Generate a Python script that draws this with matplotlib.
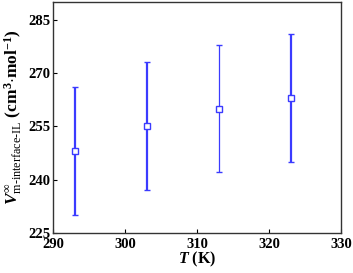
import matplotlib
matplotlib.use("Agg")
import matplotlib.pyplot as plt

T = [293, 303, 313, 323]
V = [248, 255, 260, 263]
err = [18, 18, 18, 18]
lw = [1.6, 1.6, 0.9, 1.6]

plt.rcParams['font.family'] = ['Liberation Serif', 'DejaVu Serif']
plt.rcParams['mathtext.fontset'] = 'custom'
plt.rcParams['mathtext.rm'] = 'Liberation Serif'
plt.rcParams['mathtext.it'] = 'Liberation Serif:italic:bold'
plt.rcParams['mathtext.bf'] = 'Liberation Serif:bold'

fig = plt.figure(figsize=(3.53, 2.73), dpi=100)
ax = fig.add_axes([0.150, 0.147, 0.816, 0.846])

for t, v, e, w in zip(T, V, err, lw):
    ax.errorbar([t], [v], yerr=[e], fmt='s', color='#3b3bff', mfc='white',
                mec='#3b3bff', ms=5, mew=1.0, elinewidth=w, capsize=2.5, capthick=w)

ax.set_xlim(290, 330)
ax.set_ylim(225, 290)
ax.set_xticks([290, 300, 310, 320, 330])
ax.set_yticks([225, 240, 255, 270, 285])
ax.tick_params(direction='in', length=3, width=0.8, labelsize=10.5)
ax.tick_params(axis='x', pad=3.5)
ax.tick_params(axis='y', pad=2)
for lab in ax.get_xticklabels() + ax.get_yticklabels():
    lab.set_fontweight('bold')
for s in ax.spines.values():
    s.set_linewidth(1.0)
    s.set_color('#333333')

ax.set_xlabel(r'$\mathit{T}$ (K)', fontsize=11.5, fontweight='bold', labelpad=-1)
ax.set_ylabel(r'$\mathit{V}^{\infty}_{\mathrm{m\text{-}interface\text{-}IL}}$ (cm$^{\mathbf{3}}$$\mathbf{\cdot}$mol$^{\mathbf{-1}}$)',
              fontsize=12.5, fontweight='bold', labelpad=3)

fig.savefig('out.png', dpi=100)
